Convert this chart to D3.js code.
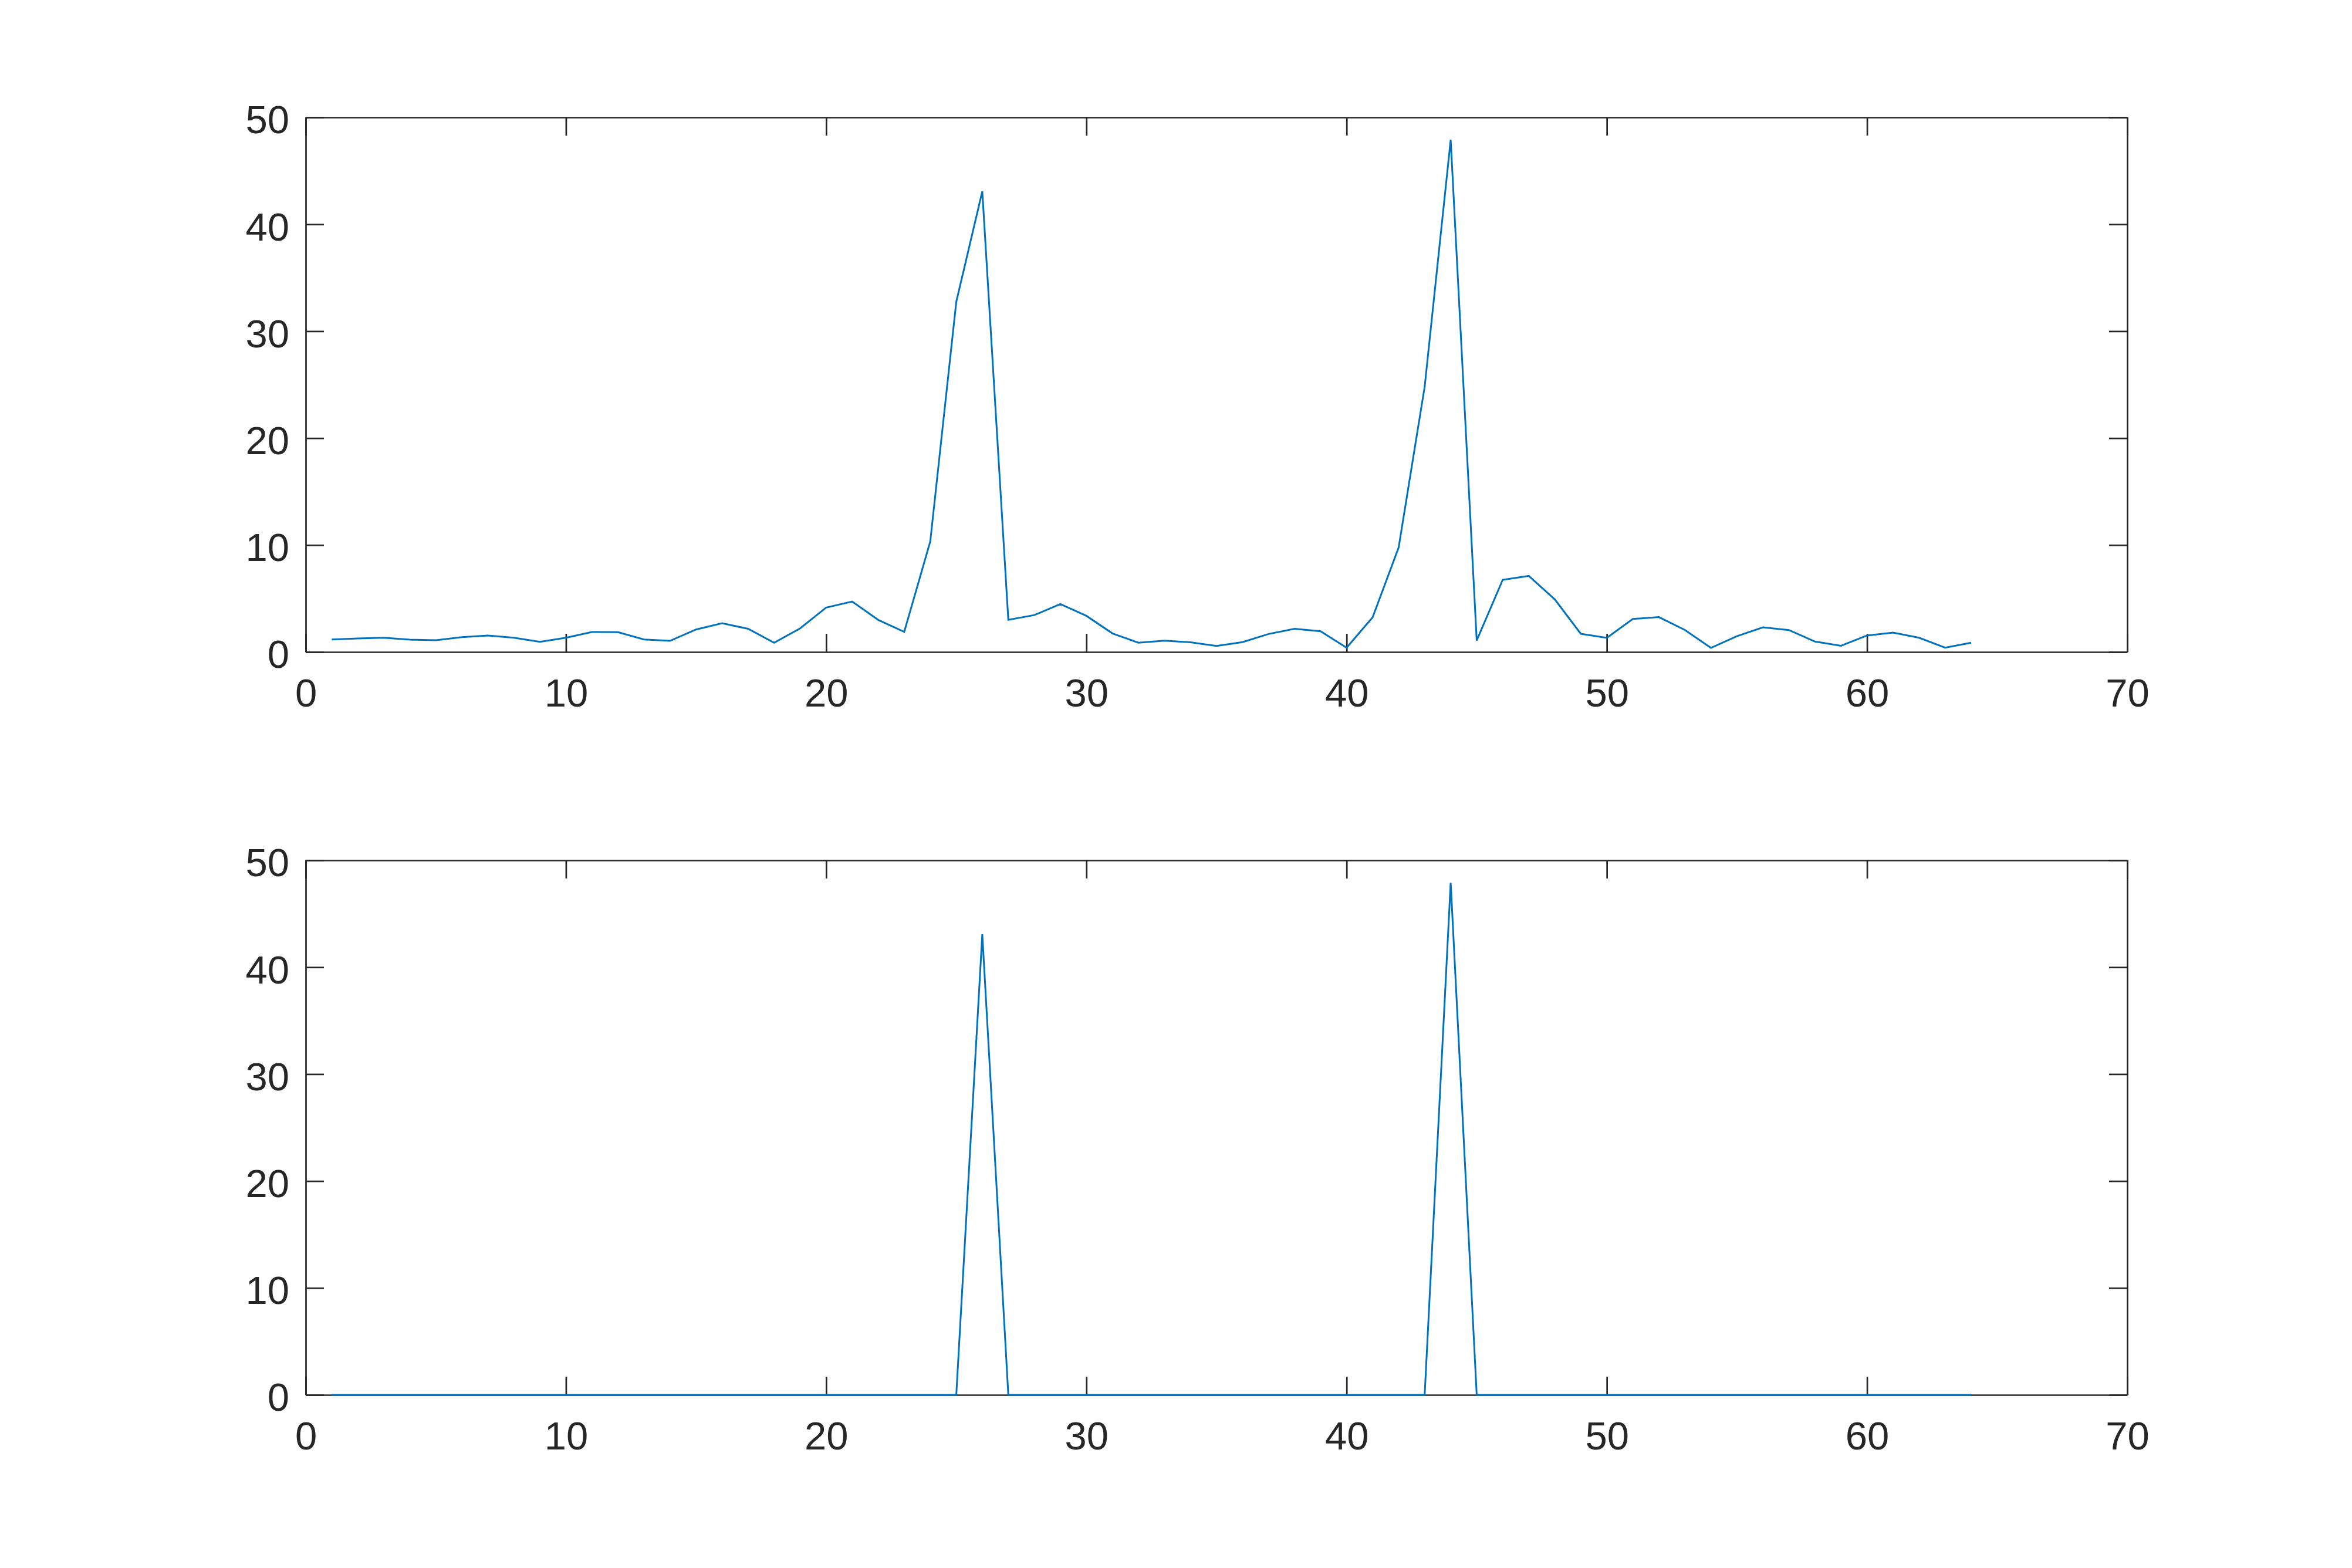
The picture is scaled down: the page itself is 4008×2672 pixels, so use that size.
<!DOCTYPE html>
<html>
<head>
<meta charset="utf-8">
<script src="https://cdn.jsdelivr.net/npm/d3@7"></script>
<style>
  html, body { margin: 0; padding: 0; background: #fff; }
  svg { display: block; }
  .axis text { font-family: "Liberation Sans", Arial, Helvetica, sans-serif; font-size: 67px; fill: #262626; }
  .axis line, .axis path { stroke: #262626; stroke-width: 2.7px; }
</style>
</head>
<body>
<svg id="chart"></svg>
<script>
const WIDTH = 4008;
const HEIGHT = 2672;

// sample index 1..64
const samples = d3.range(1, 65);

// raw signal (top panel)
const rawValues = [
  1.17, 1.26, 1.33, 1.15, 1.10, 1.39, 1.54, 1.33, 0.95, 1.33,
  1.87, 1.85, 1.17, 1.04, 2.10, 2.69, 2.17, 0.86, 2.21, 4.15,
  4.72, 3.00, 1.88, 10.33, 32.75, 43.08, 3.01, 3.45, 4.48, 3.38,
  1.74, 0.87, 1.06, 0.90, 0.57, 0.92, 1.68, 2.17, 1.94, 0.40,
  3.24, 9.77, 24.8, 47.9, 1.08, 6.75, 7.11, 4.92, 1.70, 1.32,
  3.09, 3.26, 2.06, 0.38, 1.48, 2.30, 2.05, 0.97, 0.58, 1.54,
  1.81, 1.33, 0.40, 0.86
];

// thresholded signal (bottom panel): only the two peaks kept
const peakIndex = [26, 44];
const peakValues = samples.map((s, i) => peakIndex.includes(s) ? rawValues[i] : 0);

const xTicks = [0, 10, 20, 30, 40, 50, 60, 70];
const yTicks = [0, 10, 20, 30, 40, 50];

const PLOT = { left: 521, right: 3625 };
const PANELS = [
  { top: 200, bottom: 1111, values: rawValues },
  { top: 1466, bottom: 2377, values: peakValues }
];
const TICK = 31;
const LINE_COLOR = '#0072BD';

const $svg = d3.select('#chart').attr('width', WIDTH).attr('height', HEIGHT);

function drawPanel(panel) {
  const x = d3.scaleLinear().domain([0, 70]).range([PLOT.left, PLOT.right]);
  const y = d3.scaleLinear().domain([0, 50]).range([panel.bottom, panel.top]);

  const $g = $svg.append('g');

  $g.append('g').attr('class', 'axis')
    .attr('transform', `translate(0,${panel.bottom})`)
    .call(d3.axisBottom(x).tickValues(xTicks).tickSizeInner(-TICK).tickSizeOuter(0).tickPadding(45));

  $g.append('g').attr('class', 'axis')
    .attr('transform', `translate(0,${panel.top})`)
    .call(d3.axisTop(x).tickValues(xTicks).tickFormat('').tickSizeInner(-TICK).tickSizeOuter(0));

  const $yAxis = $g.append('g').attr('class', 'axis')
    .attr('transform', `translate(${PLOT.left},0)`)
    .call(d3.axisLeft(y).tickValues(yTicks).tickSizeInner(-TICK).tickSizeOuter(0).tickPadding(28));
  $yAxis.selectAll('text').attr('dy', '0.4em');

  $g.append('g').attr('class', 'axis')
    .attr('transform', `translate(${PLOT.right},0)`)
    .call(d3.axisRight(y).tickValues(yTicks).tickFormat('').tickSizeInner(-TICK).tickSizeOuter(0));

  // hide end ticks that would sit on the box corners
  $g.selectAll('.axis .tick line').attr('stroke-linecap', 'butt');

  const line = d3.line()
    .x((d, i) => x(samples[i]))
    .y(d => y(d));

  $g.append('path')
    .datum(panel.values)
    .attr('d', line)
    .attr('fill', 'none')
    .attr('stroke', LINE_COLOR)
    .attr('stroke-width', 3)
    .attr('stroke-linejoin', 'miter');
}

PANELS.forEach(drawPanel);
</script>
</body>
</html>
